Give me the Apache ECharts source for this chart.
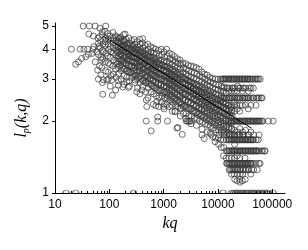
<!DOCTYPE html>
<html><head><meta charset="utf-8">
<script src="https://cdn.jsdelivr.net/npm/echarts@6/dist/echarts.min.js"></script>
<style>html,body{margin:0;padding:0;background:#fff}#c{width:308px;height:250px}</style>
</head><body><div id="c"></div>
<script>
const kqTicks = [10, 100, 1000, 10000, 100000];
const kqMinorTicks = [20,30,40,50,60,70,80,90,200,300,400,500,600,700,800,900,2000,3000,4000,5000,6000,7000,8000,9000,20000,30000,40000,50000,60000,70000,80000,90000];
const lpTicks = [1, 2, 3, 4, 5];
const trendLine = [[77, 4.54], [41300, 1.87]];

const sparsePoints = [
[20,4.0],[33,5],[43,5],[55,5],[86,5],
[42,4.63],[51,4.54],[66,4.51],[74,4.73],
[29,4],[34,4],[40,4],[50,4],
[24,3.46],[27,3.54],[31,3.66],[37,3.72],[41,3.81],
[52,4.1],[63,4.23],[84,4.3],
[48,3.84],[59,3.9],[78,3.9],
[55,3.54],[72,3.6],
[61,3.27],[70,3.12],
[63,3.0],[78,2.98],[96,3.0],[90,2.97],[111,2.97],
[76,2.59],[114,2.57],
[147,2.83],[177,2.78],[225,2.77],[210,2.92],[300,2.97],[320,2.65],[400,2.7],
[480,2.45],[750,2.41],[490,2.3],[1000,2.3],[1630,2.19],
[195,4.63],[410,4.43],
[478,2.0],[780,2.0],[1180,2.0],[780,2.08],[590,1.82],[721,2.32],[1760,1.87],[1830,1.88],
[1020,2.25],[1400,2.33],[2100,2.27],[2200,1.76],
[5100,1.75],[5600,1.69],[7500,1.76],[8900,1.64],
[2600,2],[2750,2],[2900,2],[3050,2],[3250,2]
];

const bandLow = [
[62,4.45],[64,4.1],[63,3.8],
[67,4.9],[69,4.35],[68,4.05],[70,3.7],[66,3.4],
[74,4.6],[76,4.2],[75,3.95],[77,3.65],[73,3.35],[75,2.9],
[83,4.75],[86,4.45],[85,4.15],[87,3.85],[84,3.55],[86,3.25],
[94,4.65],[96,4.4],[95,4.2],[97,4.0],[93,3.75],[96,3.5],[95,3.2],
[103,4.55],[107,4.35],[104,4.1],[106,3.9],[105,3.7],[103,3.45],[107,3.1],[104,2.8],
[116,4.7],[120,4.45],[117,4.25],[119,4.05],[118,3.85],[121,3.6],[116,3.4],[119,3.15],
[130,4.55],[134,4.35],[131,4.15],[133,3.95],[132,3.8],[135,3.55],[130,3.3],[133,3.05],[131,2.7],
[146,4.45],[150,4.25],[147,4.1],[149,3.9],[148,3.75],[151,3.55],[145,3.35],[149,3.15],[147,2.95],
[163,4.5],[167,4.3],[164,4.1],[166,3.95],[165,3.8],[168,3.6],[162,3.45],[166,3.25],[164,3.0],
[183,4.6],[187,4.35],[184,4.15],[186,4.0],[185,3.85],[188,3.7],[182,3.5],[186,3.3],[184,3.1],[187,2.85],
[205,4.4],[210,4.2],[207,4.05],[209,3.9],[206,3.75],[211,3.6],[204,3.45],[208,3.25],[210,3.05],
[229,4.45],[235,4.25],[231,4.05],[234,3.9],[230,3.75],[233,3.6],[236,3.4],[228,3.2],[232,2.95],[234,2.8],
[257,4.35],[263,4.15],[259,4.0],[262,3.85],[258,3.7],[261,3.55],[264,3.4],[256,3.2],[260,3.05],
[289,4.4],[295,4.2],[291,4.0],[294,3.85],[290,3.7],[293,3.55],[296,3.4],[288,3.25],[292,3.1],[295,2.9],
[323,4.3],[331,4.1],[325,3.95],[330,3.8],[326,3.65],[329,3.5],[332,3.35],[324,3.2],[328,3.0],[330,2.75],
[362,4.4],[371,4.2],[365,4.0],[369,3.85],[364,3.7],[368,3.55],[372,3.4],[363,3.25],[367,3.1],[370,2.9],[366,2.6],
[406,4.25],[416,4.05],[409,3.9],[414,3.75],[407,3.6],[413,3.45],[417,3.3],[405,3.15],[411,2.95],[415,2.8],
[455,4.15],[467,3.95],[458,3.8],[465,3.65],[457,3.5],[463,3.35],[468,3.2],[454,3.05],[461,2.9],[466,2.65],
[510,4.2],[524,4.0],[514,3.85],[521,3.7],[512,3.55],[519,3.4],[525,3.25],[509,3.1],[517,2.95],[522,2.75],[515,2.5],
[572,4.1],[588,3.9],[576,3.75],[585,3.6],[574,3.45],[583,3.3],[589,3.15],[571,3.0],[580,2.85],[586,2.65],
[641,4.05],[659,3.85],[646,3.7],[656,3.55],[643,3.4],[653,3.25],[660,3.1],[640,2.95],[650,2.8],[657,2.6],[648,2.35],
[719,4.0],[739,3.85],[724,3.65],[735,3.5],[721,3.35],[732,3.2],[741,3.05],[718,2.9],[729,2.75],[737,2.55],
[806,3.95],[830,3.75],[812,3.6],[825,3.45],[809,3.3],[821,3.15],[832,3.0],[805,2.85],[818,2.7],[827,2.5],[815,2.3],
[904,4.0],[930,3.8],[910,3.6],[925,3.45],[907,3.3],[921,3.15],[933,3.0],[902,2.85],[917,2.7],[928,2.55],[912,2.4]
];

const bandMid = [
[1015,3.9],[1045,3.7],[1022,3.55],[1040,3.4],[1018,3.25],[1035,3.1],[1048,2.95],[1012,2.8],[1030,2.65],[1042,2.5],[1025,2.35],
[1133,4.0],[1167,3.75],[1140,3.55],[1160,3.4],[1137,3.25],[1155,3.1],[1170,2.95],[1130,2.8],[1150,2.65],[1163,2.5],[1145,2.35],
[1270,3.85],[1310,3.65],[1278,3.5],[1302,3.35],[1275,3.2],[1296,3.05],[1312,2.9],[1268,2.75],[1290,2.6],[1305,2.45],[1283,2.3],
[1428,3.8],[1472,3.6],[1437,3.45],[1465,3.3],[1433,3.15],[1458,3.0],[1475,2.85],[1425,2.7],[1450,2.55],[1468,2.4],[1442,2.2],
[1605,3.72],[1655,3.55],[1615,3.4],[1648,3.25],[1610,3.1],[1640,2.95],[1658,2.8],[1602,2.65],[1630,2.5],[1650,2.35],[1620,2.2],
[1793,3.65],[1847,3.5],[1803,3.35],[1840,3.2],[1798,3.05],[1830,2.9],[1850,2.75],[1790,2.6],[1820,2.45],[1843,2.3],
[2010,3.6],[2070,3.45],[2021,3.3],[2062,3.15],[2015,3.0],[2052,2.85],[2073,2.7],[2006,2.55],[2040,2.4],[2065,2.25],[2030,2.1],
[2255,3.5],[2325,3.35],[2268,3.2],[2315,3.05],[2262,2.9],[2303,2.75],[2328,2.6],[2250,2.45],[2290,2.3],[2318,2.15],
[2532,3.48],[2608,3.3],[2545,3.15],[2598,3.0],[2538,2.88],[2585,2.75],[2612,2.6],[2525,2.45],[2570,2.3],[2600,2.15],[2550,2.05],
[2837,3.42],[2923,3.25],[2852,3.1],[2912,2.95],[2845,2.82],[2897,2.7],[2927,2.55],[2830,2.4],[2880,2.25],[2915,2.1],
[3182,3.4],[3278,3.2],[3199,3.05],[3266,2.92],[3190,2.8],[3250,2.67],[3283,2.52],[3175,2.38],[3230,2.25],[3270,2.1],[3210,1.95],
[3566,3.38],[3674,3.18],[3585,3.02],[3660,2.88],[3575,2.75],[3642,2.62],[3680,2.48],[3558,2.35],[3620,2.2],[3665,2.05],
[4000,3.35],[4120,3.15],[4020,3.0],[4105,2.85],[4010,2.72],[4085,2.6],[4127,2.45],[3990,2.32],[4060,2.18],[4110,2.05],[4040,1.92],
[4482,3.3],[4618,3.1],[4505,2.95],[4600,2.82],[4495,2.68],[4578,2.55],[4625,2.42],[4472,2.28],[4550,2.15],[4605,2.0],
[5034,3.21],[5186,3.05],[5060,2.92],[5167,2.78],[5048,2.65],[5141,2.52],[5195,2.4],[5022,2.25],[5110,2.12],[5170,1.98],[5085,1.85],
[5644,3.15],[5816,3.0],[5674,2.88],[5794,2.75],[5660,2.62],[5765,2.5],[5825,2.38],[5631,2.25],[5730,2.1],[5800,1.95],
[6324,3.12],[6516,2.95],[6357,2.83],[6491,2.7],[6342,2.58],[6459,2.45],[6526,2.33],[6309,2.2],[6420,2.07],[6498,1.93],[6390,1.8],
[7092,3.05],[7308,2.92],[7128,2.8],[7280,2.67],[7113,2.55],[7243,2.42],[7318,2.3],[7075,2.17],[7200,2.04],[7287,1.9],[7165,1.78],
[7959,3.02],[8201,2.88],[8000,2.75],[8170,2.63],[7982,2.5],[8129,2.38],[8213,2.26],[7940,2.13],[8080,2.0],[8178,1.87],[8040,1.72],
[8924,3.0],[9196,2.85],[8970,2.72],[9160,2.6],[8950,2.47],[9115,2.35],[9209,2.22],[8903,2.1],[9060,1.97],[9170,1.84],[9020,1.7]
];

const bandCore = [
[138,4.5],[142,4.3],[139,4.08],[141,3.88],[143,3.67],[137,3.46],
[155,4.44],[159,4.23],[156,4.03],[158,3.82],[160,3.62],[154,3.41],
[174,4.36],[178,4.16],[175,3.96],[177,3.76],[179,3.56],[173,3.35],
[194,4.3],[199,4.1],[196,3.9],[198,3.7],[201,3.5],[193,3.3],
[218,4.22],[224,4.03],[220,3.83],[223,3.64],[226,3.44],[217,3.25],
[244,4.16],[251,3.97],[246,3.77],[250,3.58],[253,3.39],[243,3.2],
[274,4.09],[282,3.9],[276,3.71],[281,3.52],[284,3.34],[272,3.15],
[307,4.03],[316,3.84],[309,3.66],[315,3.47],[318,3.28],[305,3.1],
[345,3.96],[355,3.78],[347,3.6],[353,3.41],[357,3.23],[343,3.05],
[387,3.9],[398,3.72],[390,3.54],[396,3.36],[401,3.18],[385,3.0],
[434,3.83],[446,3.66],[436,3.48],[444,3.3],[449,3.12],[431,2.95],
[487,3.77],[501,3.59],[490,3.42],[498,3.25],[504,3.07],[484,2.9],
[546,3.72],[562,3.54],[549,3.37],[559,3.2],[565,3.03],[543,2.86],
[612,3.65],[630,3.48],[616,3.31],[627,3.14],[634,2.97],[609,2.81],
[687,3.6],[707,3.43],[691,3.26],[703,3.1],[711,2.93],[683,2.76],
[771,3.53],[793,3.37],[775,3.2],[789,3.04],[798,2.88],[766,2.71],
[864,3.48],[890,3.32],[869,3.16],[885,3.0],[895,2.83],[859,2.67],
[970,3.42],[998,3.27],[975,3.11],[993,2.95],[1004,2.79],[964,2.63],
[1084,3.37],[1116,3.21],[1090,3.06],[1110,2.9],[1122,2.75],[1078,2.59],
[1222,3.32],[1258,3.16],[1229,3.01],[1251,2.86],[1265,2.7],[1215,2.55],
[1370,3.26],[1410,3.11],[1377,2.96],[1403,2.81],[1418,2.66],[1362,2.51],
[1537,3.21],[1583,3.06],[1545,2.91],[1575,2.76],[1592,2.61],[1528,2.47],
[1725,3.15],[1775,3.01],[1733,2.86],[1766,2.72],[1785,2.57],[1715,2.42],
[1932,3.11],[1988,2.97],[1941,2.82],[1978,2.68],[2000,2.53],[1920,2.39],
[2168,3.06],[2232,2.91],[2178,2.77],[2220,2.63],[2245,2.49],[2155,2.35],
[2434,3.0],[2506,2.86],[2445,2.72],[2492,2.59],[2520,2.45],[2420,2.31],
[2730,2.96],[2810,2.82],[2742,2.69],[2795,2.55],[2826,2.41],[2714,2.27],
[3065,2.92],[3155,2.78],[3079,2.65],[3138,2.51],[3172,2.38],[3048,2.24],
[3440,2.86],[3540,2.73],[3455,2.6],[3522,2.46],[3560,2.33],[3420,2.2],
[3853,2.82],[3967,2.69],[3871,2.56],[3946,2.43],[3988,2.3],[3832,2.17],
[4326,2.78],[4454,2.65],[4346,2.52],[4430,2.39],[4478,2.26],[4302,2.13],
[4849,2.73],[4991,2.61],[4871,2.48],[4965,2.35],[5018,2.23],[4822,2.1],
[5440,2.69],[5600,2.56],[5465,2.44],[5570,2.32],[5630,2.19],[5410,2.07],
[6110,2.65],[6290,2.52],[6138,2.4],[6256,2.28],[6324,2.16],[6076,2.03],
[6850,2.6],[7050,2.48],[6880,2.36],[7013,2.24],[7089,2.12],[6811,2.0],
[7687,2.56],[7913,2.44],[7722,2.32],[7870,2.2],[7956,2.09],[7644,1.97],
[8624,2.52],[8876,2.4],[8663,2.28],[8829,2.17],[8925,2.05],[8575,1.93],
[9678,2.47],[9962,2.36],[9722,2.24],[9909,2.13],[10016,2.02],[9624,1.9],
[10840,2.44],[11160,2.33],[10890,2.21],[11100,2.1],[11220,1.99],[10780,1.88],
[12220,2.4],[12580,2.29],[12280,2.18],[12510,2.06],[12650,1.95],[12150,1.84],
[13700,2.35],[14100,2.25],[13760,2.14],[14030,2.03],[14180,1.92],[13620,1.81],
[15370,2.32],[15830,2.21],[15450,2.11],[15740,2.0],[15910,1.89],[15280,1.78],
[17250,2.28],[17750,2.17],[17330,2.07],[17660,1.96],[17850,1.86],[17150,1.75]
];

const bandHigh = [
[10047,3.0],[10353,2.83],[10098,2.7],[10310,2.58],[10076,2.45],[10261,2.33],[10368,2.2],[10023,2.08],[10200,1.96],[10322,1.83],[10150,1.7],[10280,1.6],
[11229,3.0],[11571,2.8],[11286,2.67],[11525,2.55],[11261,2.43],[11468,2.3],[11590,2.18],[11200,2.05],[11400,1.93],[11537,1.8],[11350,1.67],[11480,1.55],
[12608,3.0],[12992,2.78],[12672,2.67],[12940,2.5],[12640,2.4],[12880,2.28],[13010,2.15],[12576,2.0],[12800,1.9],[12950,1.78],[12740,1.67],[12880,1.55],[12700,1.43],
[14086,3.0],[14515,2.75],[14157,2.62],[14457,2.5],[14122,2.38],[14390,2.25],[14535,2.12],[14050,2.0],[14300,1.88],[14470,1.75],[14230,1.67],[14390,1.5],[14200,1.4],[14450,1.33],
[15860,3.0],[16340,2.75],[15940,2.67],[16280,2.5],[15900,2.33],[16200,2.25],[16360,2.12],[15820,2.0],[16100,1.86],[16290,1.75],[16020,1.67],[16200,1.5],[15950,1.4],[16300,1.33],[16100,1.25],
[17730,3.0],[18270,2.75],[17820,2.67],[18200,2.5],[17780,2.33],[18110,2.22],[18290,2.1],[17690,2.0],[18000,1.86],[18210,1.75],[17910,1.67],[18110,1.5],[17850,1.4],[18230,1.33],[18000,1.25],[17800,1.2],
[19900,3.0],[20500,2.75],[20100,2.67],[20400,2.5],[19800,2.4],[20300,2.33],[20600,2.2],[19950,2.0],[20250,1.83],[20450,1.75],[20050,1.67],[20350,1.6],[19850,1.5],[20500,1.4],[20150,1.33],[20300,1.25],[19900,1.2],[20400,1.14],
[22400,3.0],[23000,2.8],[22600,2.67],[22900,2.5],[22300,2.33],[22800,2.25],[22500,2.0],[23100,1.8],[22700,1.75],[22400,1.67],[22900,1.5],[22600,1.43],[23000,1.33],[22500,1.25],[22800,1.2],[22600,1.125],
[25000,3.0],[25800,2.75],[25200,2.5],[25600,2.33],[25100,2.2],[25700,2.0],[25300,1.86],[25500,1.75],[25000,1.67],[25800,1.5],[25200,1.4],[25600,1.33],[25300,1.25],[25700,1.2],[25100,1.14],[25400,1.11],
[28100,3.0],[28900,2.75],[28300,2.67],[28700,2.5],[28200,2.33],[28800,2.0],[28400,1.8],[28600,1.75],[28100,1.67],[28900,1.5],[28300,1.33],[28700,1.25],[28500,1.2],[28200,1.125],
[31500,3.0],[32500,2.75],[31800,2.5],[32300,2.33],[31700,2.0],[32400,1.83],[31900,1.67],[32200,1.5],[31600,1.4],[32500,1.33],[32000,1.25],[31800,1.14],
[35400,3.0],[36400,2.67],[35700,2.5],[36200,2.25],[35500,2.0],[36300,1.75],[35800,1.67],[36100,1.5],[35600,1.33],[36000,1.25],
[39700,3.0],[40700,2.75],[40000,2.5],[40500,2.33],[39800,2.0],[40600,1.8],[40100,1.67],[40400,1.5],[39900,1.33],[40300,1.2],
[44500,3.0],[45700,2.5],[44800,2.0],[45500,1.75],[45000,1.67],[45300,1.5],[44700,1.33],[45600,1.25],
[50000,3.0],[51200,2.5],[50300,2.33],[50900,2.0],[50500,1.67],[50800,1.5],[50200,1.33],
[56000,3.0],[57500,2.5],[56500,2.0],[57200,1.75],[56300,1.5],[57000,1.33],
[63000,2.5],[64400,2.0],[63500,1.5],
[72000,1.5]
];

const streakPoints = [
[12000,3],[13500,3],[15200,3],[17000,3],[19000,3],[21400,3],[24000,3],[27000,3],[30300,3],[34000,3],[38000,3],[42500,3],[48000,3],[53000,3],[60000,3],
[12700,3],[14300,3],[16100,3],[18000,3],[20200,3],[22700,3],[25400,3],[28500,3],[32000,3],[36000,3],
[17000,2],[19000,2],[21300,2],[23800,2],[26800,2],[30000,2],[33700,2],[37800,2],[42400,2],[47600,2],[53500,2],[60000,2],[67000,2],[85000,2],[104000,2],
[18000,2],[20100,2],[22500,2],[25300,2],[28400,2],[31800,2],[35700,2],[40000,2],[45000,2],[50500,2],[56700,2],
[15000,1.5],[17000,1.5],[19100,1.5],[21500,1.5],[24100,1.5],[27000,1.5],[30400,1.5],[34100,1.5],[38300,1.5],[43000,1.5],[48300,1.5],[54000,1.5],[66000,1.5],[74000,1.5],
[16000,1.5],[18000,1.5],[20300,1.5],[22700,1.5],[25500,1.5],[28700,1.5],[32200,1.5],[36200,1.5],[40600,1.5],[45600,1.5],[51000,1.5],
[15500,1.67],[17400,1.67],[19600,1.67],[22000,1.67],[24700,1.67],[27700,1.67],[31100,1.67],[34900,1.67],[39200,1.67],[44000,1.67],[55000,1.67],
[16400,1.67],[18500,1.67],[20800,1.67],[23300,1.67],[26100,1.67],[29300,1.67],[33000,1.67],[37000,1.67],[41500,1.67],
[14800,1.33],[16700,1.33],[18800,1.33],[21100,1.33],[23700,1.33],[26600,1.33],[29900,1.33],[33600,1.33],[37700,1.33],[42300,1.33],[60000,1.33],
[15700,1.33],[17700,1.33],[19900,1.33],[22400,1.33],[25100,1.33],[28200,1.33],[31700,1.33],[35600,1.33],[40000,1.33],
[11000,2.5],[13000,2.5],[15500,2.5],[18500,2.5],[22000,2.5],[26000,2.5],[31000,2.5],[37000,2.5],[44000,2.5],[54000,2.5],[65000,2.5],
[12000,2.5],[14200,2.5],[17000,2.5],[20200,2.5],[24000,2.5],[28500,2.5],[34000,2.5],
[12000,2.75],[15000,2.75],[19000,2.75],[24000,2.75],[30000,2.75],[38000,2.75],[45000,2.75],
[17000,1.25],[21000,1.25],[26000,1.25],[33000,1.25],[42000,1.25],[53000,1.25],
[19000,1.25],[23500,1.25],[29500,1.25],[37000,1.25],
[10500,1.75],[13000,1.75],[16000,1.75],[20000,1.75],[24500,1.75],[30000,1.75],[37000,1.75]
];

const floorPoints = [
[16,1],[24,1],[279,1],[12400,1],[18000,1],[19500,1],[21000,1],[22500,1],[24000,1],[26000,1],[28000,1],[30000,1],[32500,1],[35000,1],[38000,1],[41000,1],[44000,1],[48000,1],[52000,1],[56000,1],[61000,1],[66000,1],[72000,1],[78000,1],[85000,1],[104000,1]
];

const ringStyle = { color: 'rgba(0,0,0,0)', borderColor: '#383838', borderWidth: 0.9 };
function ringSeries(data) {
  return { type: 'scatter', data: data, symbol: 'circle', symbolSize: 6, itemStyle: ringStyle, silent: true, xAxisIndex: 0, yAxisIndex: 0 };
}
const labelFont = { color: '#000', fontFamily: 'Liberation Sans', fontSize: 12 };
const chart = echarts.init(document.getElementById('c'), null, { renderer: 'canvas' });
chart.setOption({
  animation: false,
  backgroundColor: '#fff',
  grid: { left: 55, right: 23, top: 23, bottom: 57, containLabel: false },
  xAxis: [{
    type: 'log', logBase: 10, min: 10, max: 172000, position: 'bottom',
    name: 'kq', nameLocation: 'middle', nameGap: 19,
    nameTextStyle: { color: '#000', fontFamily: 'Liberation Serif', fontStyle: 'italic', fontSize: 16 },
    axisLine: { show: true, lineStyle: { color: '#000', width: 1 } },
    axisTick: { show: true, inside: true, length: 4, customValues: kqTicks, lineStyle: { color: '#000' } },
    axisLabel: Object.assign({ show: true, margin: 6, customValues: kqTicks, formatter: v => String(Math.round(v)) }, labelFont),
    splitLine: { show: false }, minorTick: { show: false }
  }, {
    type: 'log', logBase: 10, min: 10, max: 172000, position: 'bottom',
    axisLine: { show: false },
    axisTick: { show: true, inside: true, length: 2, customValues: kqMinorTicks, lineStyle: { color: '#000' } },
    axisLabel: { show: false }, splitLine: { show: false }
  }],
  yAxis: {
    type: 'log', logBase: 10, min: 1, max: 5.15,
    name: '{a|l}{b|p}{a|(k,q)}', nameLocation: 'middle', nameGap: 20,
    nameTextStyle: { padding: [0, 20, 0, 0], rich: {
      a: { fontFamily: 'Liberation Serif', fontStyle: 'italic', fontSize: 16, color: '#000' },
      b: { fontFamily: 'Liberation Serif', fontStyle: 'italic', fontSize: 10, color: '#000', padding: [9, 0, 0, 0] }
    } },
    axisLine: { show: true, lineStyle: { color: '#000', width: 1 } },
    axisTick: { show: true, inside: false, length: 3, customValues: lpTicks, lineStyle: { color: '#000' } },
    axisLabel: Object.assign({ show: true, margin: 6, customValues: lpTicks, formatter: v => String(Math.round(v)) }, labelFont),
    splitLine: { show: false }, minorTick: { show: false }
  },
  series: [
    ringSeries(sparsePoints),
    ringSeries(bandLow),
    ringSeries(bandMid),
    ringSeries(bandCore),
    ringSeries(bandHigh),
    ringSeries(streakPoints),
    { type: 'scatter', data: floorPoints, symbol: 'path://M0 10 A10 10 0 0 1 20 10', symbolSize: [6, 3], symbolOffset: [0, -1.5], itemStyle: ringStyle, silent: true },
    { type: 'line', data: trendLine, symbol: 'none', lineStyle: { color: '#000', width: 1 }, z: 5, silent: true }
  ]
});
</script></body></html>
